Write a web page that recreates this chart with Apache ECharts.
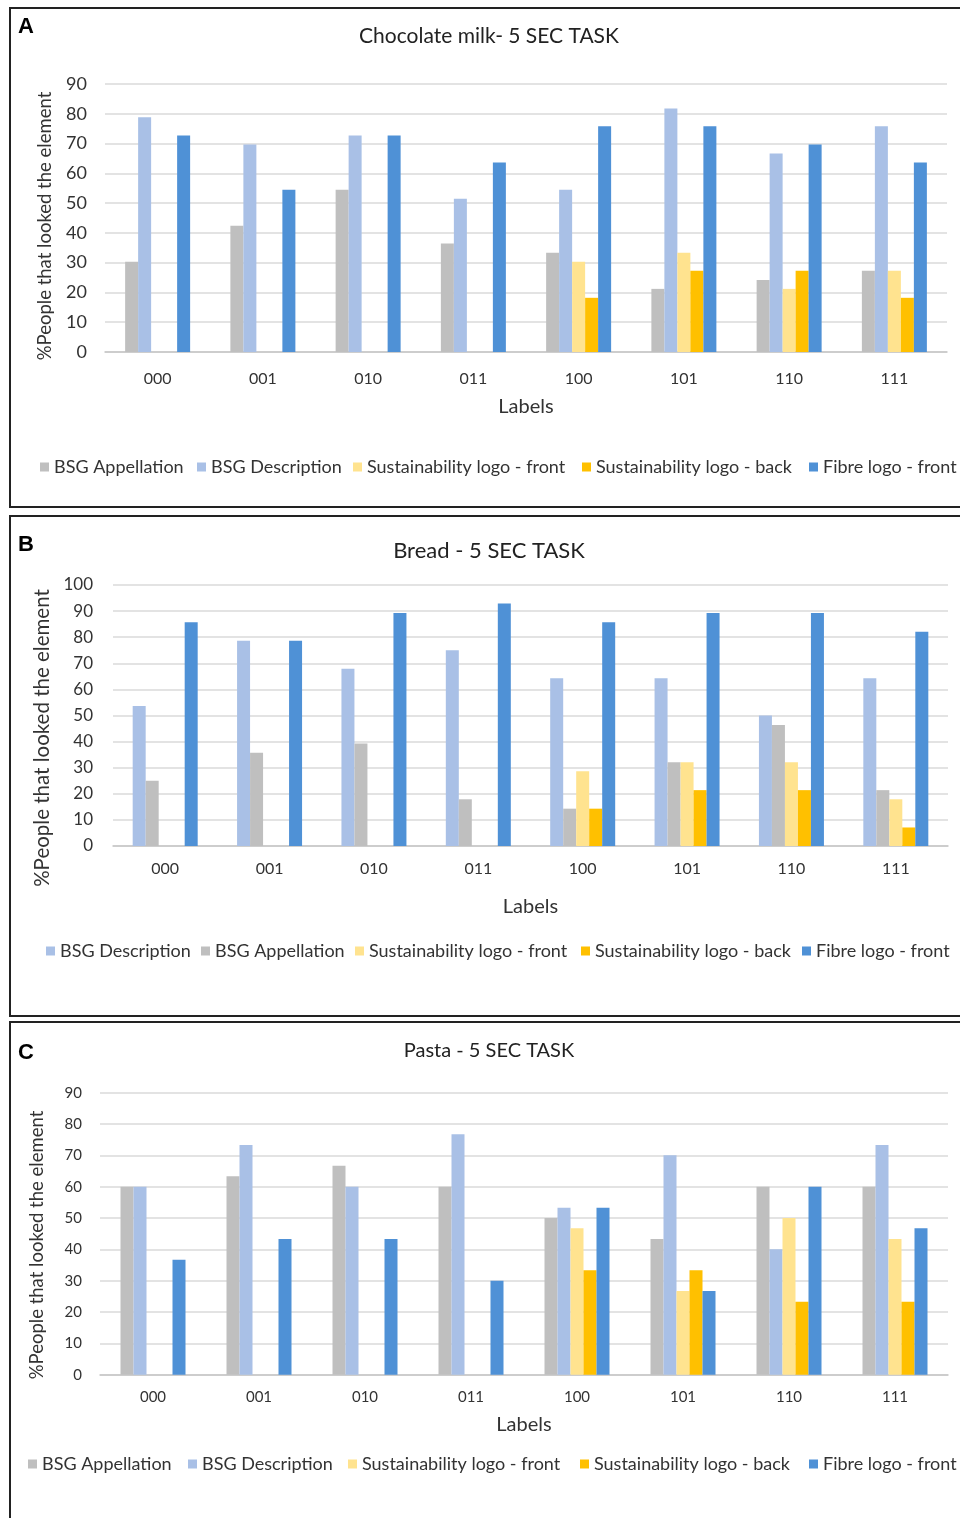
<!DOCTYPE html>
<html><head><meta charset="utf-8">
<script src="https://cdn.jsdelivr.net/npm/echarts@6/dist/echarts.min.js"></script>
<style>html,body{margin:0;padding:0;background:#fff}#c{width:960px;height:1518px}</style>
</head><body><div id="c"></div><script>
// ---------- data ----------
const categories = ['000', '001', '010', '011', '100', '101', '110', '111'];

const seriesNames = ['BSG Appellation', 'BSG Description', 'Sustainability logo - front', 'Sustainability logo - back', 'Fibre logo - front'];

// A: Chocolate milk
const milkAppellation = [30.3, 42.4, 54.5, 36.4, 33.3, 21.2, 24.2, 27.3];
const milkDescription = [78.8, 69.7, 72.7, 51.5, 54.5, 81.8, 66.7, 75.8];
const milkSustFront   = [null, null, null, null, 30.3, 33.3, 21.2, 27.3];
const milkSustBack    = [null, null, null, null, 18.2, 27.3, 27.3, 18.2];
const milkFibre       = [72.7, 54.5, 72.7, 63.6, 75.8, 75.8, 69.7, 63.6];

// B: Bread
const breadDescription = [53.6, 78.6, 67.9, 75.0, 64.3, 64.3, 50.0, 64.3];
const breadAppellation = [25.0, 35.7, 39.3, 17.9, 14.3, 32.1, 46.4, 21.4];
const breadSustFront   = [null, null, null, null, 28.6, 32.1, 32.1, 17.9];
const breadSustBack    = [null, null, null, null, 14.3, 21.4, 21.4, 7.1];
const breadFibre       = [85.7, 78.6, 89.3, 92.9, 85.7, 89.3, 89.3, 82.1];

// C: Pasta
const pastaAppellation = [60.0, 63.3, 66.7, 60.0, 50.0, 43.3, 60.0, 60.0];
const pastaDescription = [60.0, 73.3, 60.0, 76.7, 53.3, 70.0, 40.0, 73.3];
const pastaSustFront   = [null, null, null, null, 46.7, 26.7, 50.0, 43.3];
const pastaSustBack    = [null, null, null, null, 33.3, 33.3, 23.3, 23.3];
const pastaFibre       = [36.7, 43.3, 43.3, 30.0, 53.3, 26.7, 60.0, 46.7];

const yTicksMaxA = 90, yTicksMaxB = 100, yTicksMaxC = 90;
const yTickStep = 10;

// ---------- styling ----------
const colors = {
  'BSG Appellation': '#BFBFBF',
  'BSG Description': '#A9C0E6',
  'Sustainability logo - front': '#FFE38F',
  'Sustainability logo - back': '#FFC000',
  'Fibre logo - front': '#4F91D6'
};
const FONT = 'Lato';

const panels = [
  { title: 'Chocolate milk- 5 SEC TASK', letter: 'A', max: yTicksMaxA,
    order: ['BSG Appellation', 'BSG Description', 'Sustainability logo - front', 'Sustainability logo - back', 'Fibre logo - front'],
    data: [milkAppellation, milkDescription, milkSustFront, milkSustBack, milkFibre],
    grid: { left: 105, top: 84, width: 842, height: 268 },
    titleY: 26, titleSize: 21, letterY: 16, tickFont: 18, xLabFont: 16, xMargin: 19, yMargin: 18, nameGap: 45,
    yName: { x: 45, y: 226, size: 18.5 },
    legendTop: 458, legendLefts: [40, 197, 353, 582, 809] },
  { title: 'Bread - 5 SEC TASK', letter: 'B', max: yTicksMaxB,
    order: ['BSG Description', 'BSG Appellation', 'Sustainability logo - front', 'Sustainability logo - back', 'Fibre logo - front'],
    data: [breadDescription, breadAppellation, breadSustFront, breadSustBack, breadFibre],
    grid: { left: 113, top: 585, width: 835, height: 261 },
    titleY: 540, titleSize: 22, letterY: 534, tickFont: 17, xLabFont: 16, xMargin: 15, yMargin: 20, nameGap: 51,
    yName: { x: 42, y: 738, size: 20.5 },
    legendTop: 942, legendLefts: [46, 201, 355, 581, 802] },
  { title: 'Pasta - 5 SEC TASK', letter: 'C', max: yTicksMaxC,
    order: ['BSG Appellation', 'BSG Description', 'Sustainability logo - front', 'Sustainability logo - back', 'Fibre logo - front'],
    data: [pastaAppellation, pastaDescription, pastaSustFront, pastaSustBack, pastaFibre],
    grid: { left: 100, top: 1092.7, width: 848, height: 282 },
    titleY: 1041, titleSize: 20, letterY: 1042, tickFont: 15, xLabFont: 15, xMargin: 15, yMargin: 18, nameGap: 40,
    yName: { x: 37, y: 1245, size: 18.5 },
    legendTop: 1455, legendLefts: [28, 188, 348, 580, 809] }
];

const grids = [], xAxes = [], yAxes = [], series = [], legends = [], titles = [];
const graphics = [
  { type: 'rect', shape: { x: 10, y: 8, width: 960, height: 499 }, style: { fill: 'none', stroke: '#222', lineWidth: 2 }, silent: true },
  { type: 'rect', shape: { x: 10, y: 516, width: 960, height: 500 }, style: { fill: 'none', stroke: '#222', lineWidth: 2 }, silent: true },
  { type: 'rect', shape: { x: 10, y: 1022, width: 960, height: 520 }, style: { fill: 'none', stroke: '#222', lineWidth: 2 }, silent: true }
];

panels.forEach((p, i) => {
  grids.push(Object.assign({ containLabel: false }, p.grid));
  xAxes.push({
    type: 'category', gridIndex: i, data: categories,
    axisTick: { show: false },
    axisLine: { lineStyle: { color: '#C6C6C6', width: 1.5 } },
    axisLabel: { fontFamily: FONT, fontSize: p.xLabFont, color: '#333', margin: p.xMargin },
    name: 'Labels', nameLocation: 'middle', nameGap: p.nameGap,
    nameTextStyle: { fontFamily: FONT, fontSize: 20, color: '#333' }
  });
  yAxes.push({
    type: 'value', gridIndex: i, min: 0, max: p.max, interval: yTickStep,
    axisLine: { show: false }, axisTick: { show: false },
    axisLabel: { fontFamily: FONT, fontSize: p.tickFont, color: '#333', margin: p.yMargin },
    splitLine: { lineStyle: { color: '#DADADA', width: 1.5 } }
  });
  p.order.forEach((name, k) => {
    series.push({
      type: 'bar', name: name, xAxisIndex: i, yAxisIndex: i,
      data: p.data[k], barWidth: 13, barGap: '0%',
      itemStyle: { color: colors[name] }
    });
    legends.push({
      data: [name], left: p.legendLefts[k], top: p.legendTop, padding: 0,
      icon: 'rect', itemWidth: 9, itemHeight: 9, selectedMode: false,
      textStyle: { fontFamily: FONT, fontSize: 18, color: '#333' }
    });
  });
  titles.push({
    text: p.title, left: 489, top: p.titleY, textAlign: 'center', padding: 0,
    textStyle: { fontFamily: FONT, fontSize: p.titleSize, fontWeight: 'normal', color: '#222' }
  });
  titles.push({
    text: p.letter, left: 18, top: p.letterY, padding: 0,
    textStyle: { fontFamily: 'Liberation Sans', fontSize: 22, fontWeight: 'bold', color: '#000' }
  });
  graphics.push({
    type: 'text', x: p.yName.x, y: p.yName.y, rotation: Math.PI / 2, silent: true,
    style: { text: '%People that looked the element', fontFamily: FONT, fontSize: p.yName.size,
             fill: '#333', align: 'center', verticalAlign: 'middle' }
  });
});

const chart = echarts.init(document.getElementById('c'), null, { renderer: 'canvas' });
chart.setOption({
  animation: false,
  backgroundColor: '#fff',
  title: titles,
  legend: legends,
  grid: grids,
  xAxis: xAxes,
  yAxis: yAxes,
  series: series,
  graphic: graphics
});
</script></body></html>
